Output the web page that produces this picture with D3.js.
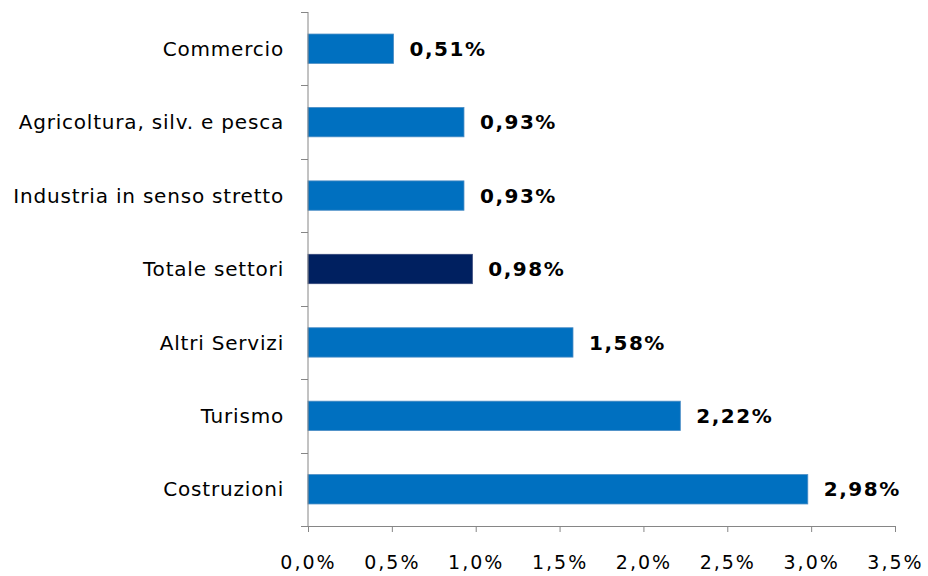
<!DOCTYPE html>
<html>
<head>
<meta charset="utf-8">
<script src="https://cdn.jsdelivr.net/npm/d3@7"></script>
<style>
  body { margin: 0; background: #fff; }
  svg { display: block; }
</style>
</head>
<body>
<svg width="928" height="576"></svg>
<script>
// settori, dall'alto verso il basso
var categories = ['Commercio', 'Agricoltura, silv. e pesca', 'Industria in senso stretto',
	'Totale settori', 'Altri Servizi', 'Turismo', 'Costruzioni'];
var values = [0.51, 0.93, 0.93, 0.98, 1.58, 2.22, 2.98];
var highlight = ['Totale settori'];
var xTicks = [0, 0.5, 1, 1.5, 2, 2.5, 3, 3.5];

var svg = d3.select('svg');
var font = 'DejaVu Sans, Verdana, sans-serif';
var fmt = function(v, dec){ return v.toFixed(dec).replace('.', ',') + '%'; };

var x = d3.scaleLinear().domain([0, 3.5]).range([308, 895]);
var y = d3.scaleBand().domain(categories).range([12, 526]);

var data = categories.map(function(c, i){ return { cat: c, val: values[i] }; });

// barre
svg.selectAll('.bar')
	.data(data)
.enter()
	.append('rect').attr('class', 'bar')
	.attr('x', x(0))
	.attr('y', function(d){ return y(d.cat) + y.bandwidth() * 0.3; })
	.attr('width', function(d){ return x(d.val) - x(0); })
	.attr('height', y.bandwidth() * 0.4)
	.attr('fill', function(d){ return highlight.indexOf(d.cat) >= 0 ? '#002060' : '#0070c0'; })
	.attr('stroke', function(d){ return highlight.indexOf(d.cat) >= 0 ? '#34457a' : '#4a8cc4'; })
	.attr('stroke-width', 0.8);

// etichette valori
svg.selectAll('.val')
	.data(data)
.enter()
	.append('text').attr('class', 'val')
	.attr('x', function(d){ return x(d.val) + 16; })
	.attr('y', function(d){ return y(d.cat) + y.bandwidth() / 2; })
	.attr('dy', '0.36em')
	.attr('font-family', font)
	.attr('font-size', 20)
	.attr('font-weight', 'bold')
	.attr('letter-spacing', 1.5)
	.attr('fill', '#000')
	.text(function(d){ return fmt(d.val, 2); });

// asse x
var xAxis = d3.axisBottom(x).tickValues(xTicks).tickSize(6).tickPadding(24)
	.tickFormat(function(d){ return fmt(d, 1); });
var gx = svg.append('g').attr('transform', 'translate(0,526)').call(xAxis);
gx.select('.domain').attr('stroke', '#868686').attr('d', 'M' + x(0) + ',0.5H' + x(3.5));
gx.selectAll('.tick line').attr('stroke', '#868686');
gx.selectAll('.tick text')
	.attr('font-family', font)
	.attr('font-size', 19)
	.attr('letter-spacing', 2)
	.attr('fill', '#000');

// asse y
var bounds = categories.map(function(c){ return y(c); }).concat([y.range()[1]]);
var gy = svg.append('g');
gy.append('line')
	.attr('x1', x(0)).attr('x2', x(0))
	.attr('y1', y.range()[0]).attr('y2', y.range()[1])
	.attr('stroke', '#868686');
gy.selectAll('.ytick')
	.data(bounds)
.enter()
	.append('line').attr('class', 'ytick')
	.attr('x1', x(0) - 7).attr('x2', x(0))
	.attr('y1', function(d){ return Math.round(d) + 0.5; })
	.attr('y2', function(d){ return Math.round(d) + 0.5; })
	.attr('stroke', '#868686');
gy.selectAll('.ylab')
	.data(categories)
.enter()
	.append('text').attr('class', 'ylab')
	.attr('x', x(0) - 24)
	.attr('y', function(d){ return y(d) + y.bandwidth() / 2; })
	.attr('dy', '0.36em')
	.attr('text-anchor', 'end')
	.attr('font-family', font)
	.attr('font-size', 20)
	.attr('letter-spacing', 0.8)
	.attr('fill', '#000')
	.text(function(d){ return d; });
</script>
</body>
</html>
